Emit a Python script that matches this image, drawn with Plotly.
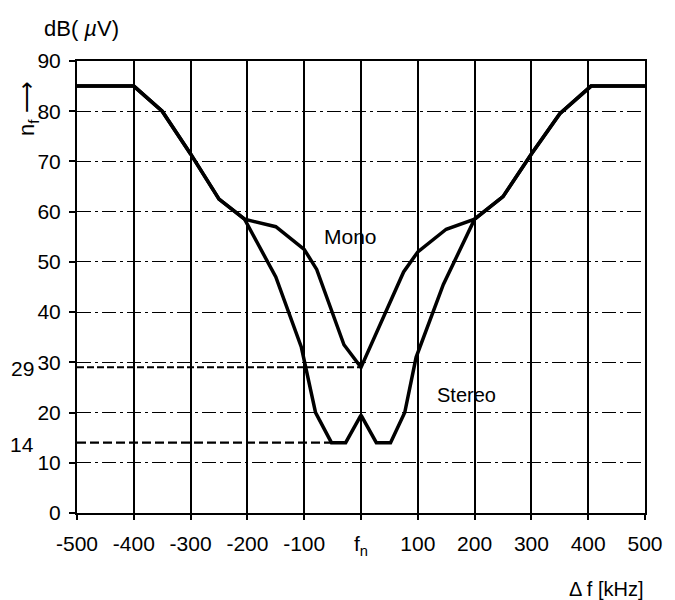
import plotly.graph_objects as go

# Frequency offset (kHz) and level (dB µV)
shared_left_x = [-500, -400, -350, -300, -250, -205]
shared_left_y = [85, 85, 80, 71.5, 62.5, 58.5]

shared_right_x = [200, 250, 300, 350, 405, 500]
shared_right_y = [58.5, 63, 71.5, 79.5, 85, 85]

mono_mid_x = [-150, -100, -78, -30, 0, 28, 75, 100, 150]
mono_mid_y = [57, 52.5, 48.5, 33.5, 29, 36, 48, 52, 56.5]

stereo_mid_x = [-150, -105, -80, -52, -27, 0, 27, 52, 77, 97, 145]
stereo_mid_y = [47, 33, 20, 14, 14, 19.5, 14, 14, 20, 31, 45.5]

mono_x = shared_left_x + mono_mid_x + shared_right_x
mono_y = shared_left_y + mono_mid_y + shared_right_y
stereo_x = shared_left_x + stereo_mid_x + shared_right_x
stereo_y = shared_left_y + stereo_mid_y + shared_right_y

x_ticks = [-500, -400, -300, -200, -100, 0, 100, 200, 300, 400, 500]
x_tick_text = ["-500", "-400", "-300", "-200", "-100", "f<sub>n</sub>",
               "100", "200", "300", "400", "500"]
y_ticks = [0, 10, 20, 30, 40, 50, 60, 70, 80, 90]

mono_min = 29
stereo_min = 14
stereo_flat_start = -52

FONT = "Liberation Sans, Arial, sans-serif"
FS = 21

fig = go.Figure()

# threshold guides
fig.add_trace(go.Scatter(x=[-500, 0], y=[mono_min, mono_min], mode="lines",
                         line=dict(color="black", width=2, dash="7px,3px"),
                         hoverinfo="skip", showlegend=False))
fig.add_trace(go.Scatter(x=[-500, stereo_flat_start], y=[stereo_min, stereo_min], mode="lines",
                         line=dict(color="black", width=2.2, dash="9px,4px"),
                         hoverinfo="skip", showlegend=False))

fig.add_trace(go.Scatter(x=mono_x, y=mono_y, mode="lines", name="Mono",
                         line=dict(color="black", width=3.5), showlegend=False))
fig.add_trace(go.Scatter(x=stereo_x, y=stereo_y, mode="lines", name="Stereo",
                         line=dict(color="black", width=3.5), showlegend=False))

fig.update_xaxes(range=[-500, 500], tickvals=x_ticks, ticktext=x_tick_text,
                 showgrid=True, gridcolor="black", gridwidth=1.8,
                 showline=True, linecolor="black", linewidth=2, mirror=True,
                 ticks="outside", ticklen=5, tickcolor="black", tickwidth=1.5,
                 ticklabelstandoff=6, ticklabeloverflow="allow",
                 tickfont=dict(family=FONT, size=FS, color="black"),
                 zeroline=False)
fig.update_yaxes(range=[0, 90], tickvals=y_ticks,
                 showgrid=True, gridcolor="black", gridwidth=1.3,
                 griddash="14px,4px,3px,4px",
                 showline=True, linecolor="black", linewidth=2, mirror=True,
                 ticks="outside", ticklen=6, tickcolor="black", tickwidth=1.5,
                 ticklabelstandoff=4, ticklabeloverflow="allow",
                 tickfont=dict(family=FONT, size=FS, color="black"),
                 zeroline=False)

annos = [
    dict(x=-18, y=55, text="Mono", xref="x", yref="y", showarrow=False,
         font=dict(family=FONT, size=FS, color="black")),
    dict(x=185, y=23.5, text="Stereo", xref="x", yref="y", showarrow=False,
         font=dict(family=FONT, size=FS - 1, color="black")),
    dict(x=21, y=368, text=str(mono_min), xref="paper", yref="paper", showarrow=False,
         font=dict(family=FONT, size=FS, color="black")),
    dict(x=21, y=444, text=str(stereo_min), xref="paper", yref="paper", showarrow=False,
         font=dict(family=FONT, size=FS, color="black")),
    dict(x=82, y=29, text="dB( <i>µ</i>V)", xref="paper", yref="paper", showarrow=False,
         font=dict(family=FONT, size=22, color="black")),
    dict(x=27, y=108, text="n<sub>f</sub> ⟶", xref="paper", yref="paper", showarrow=False,
         textangle=-90, font=dict(family=FONT, size=22, color="black")),
    dict(x=616, y=589, text="Δ f [kHz]", xref="paper", yref="paper", showarrow=False,
         font=dict(family=FONT, size=FS - 1, color="black")),
]
# place pixel-positioned annotations in paper coordinates
W, H = 675, 600
L, R, T, B = 77, 19, 61, 87
pw, ph = W - L - R, H - T - B
for a in annos:
    if a["xref"] == "paper":
        a["x"] = (a["x"] - L) / pw
    if a["yref"] == "paper":
        a["y"] = (H - B - a["y"]) / ph
    a["xanchor"] = "center"
    a["yanchor"] = "middle"

fig.update_layout(width=W, height=H, margin=dict(l=L, r=R, t=T, b=B),
                  plot_bgcolor="white", paper_bgcolor="white",
                  annotations=annos, showlegend=False)

fig.write_html("out.html")
